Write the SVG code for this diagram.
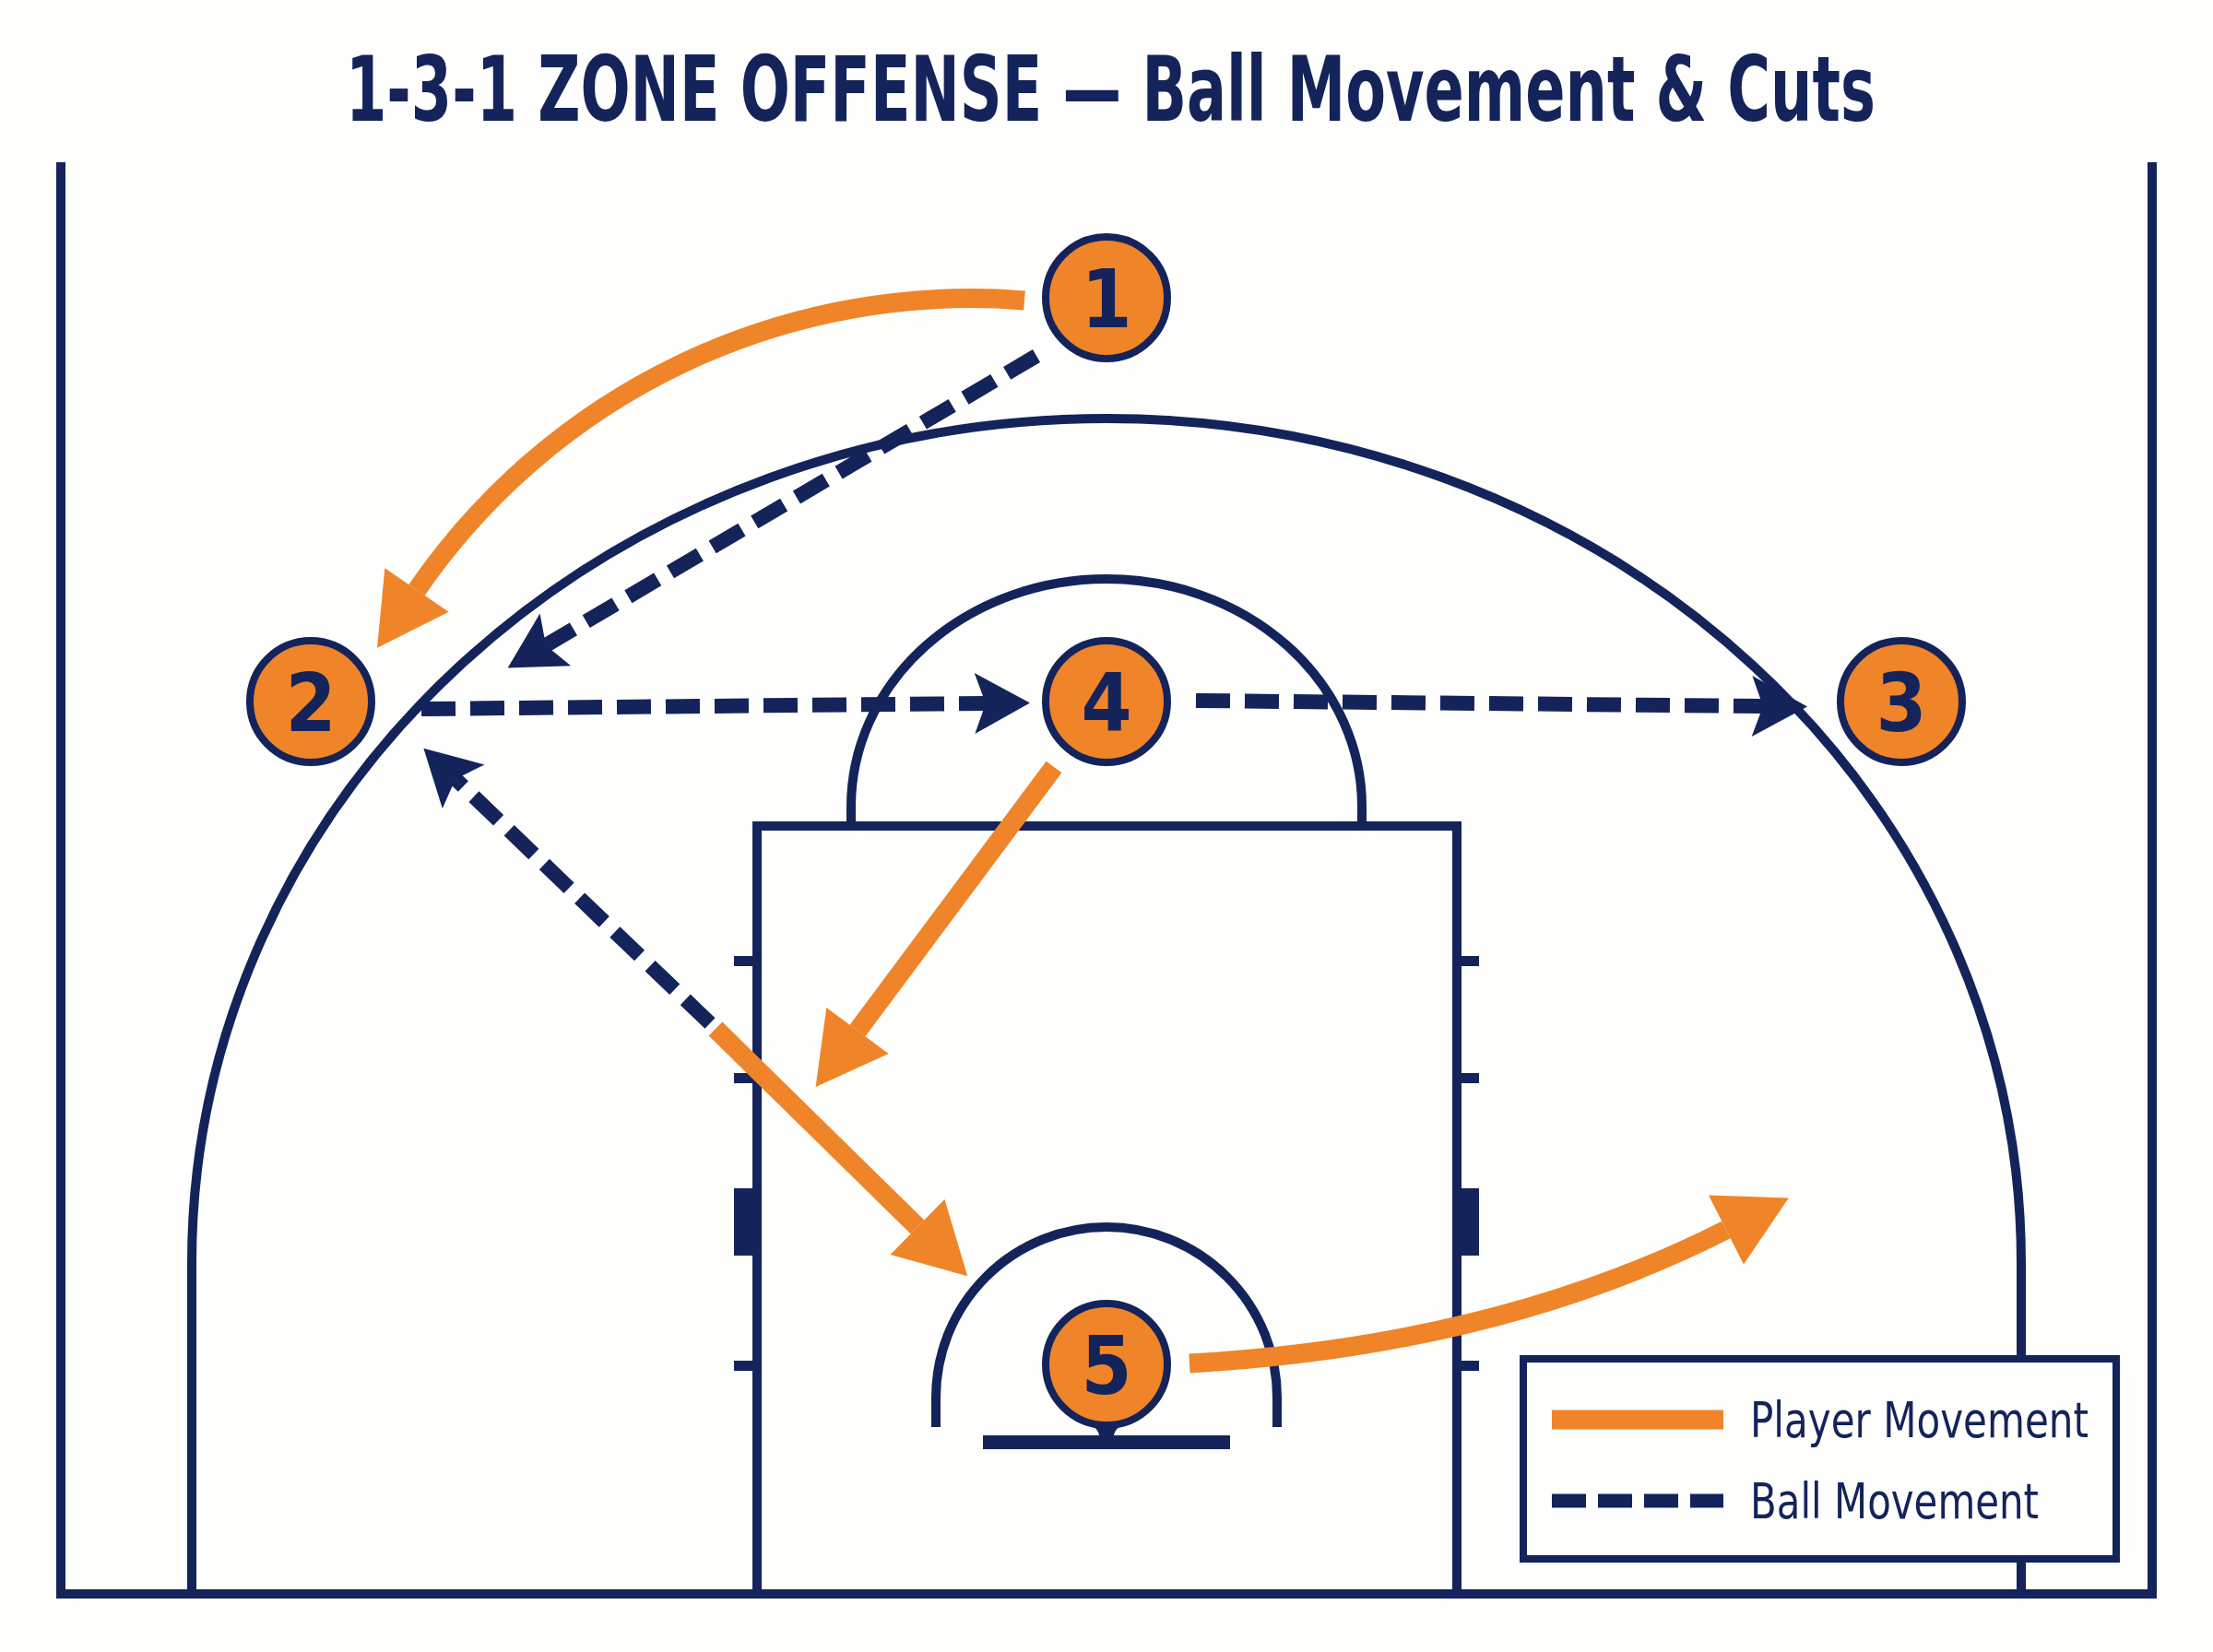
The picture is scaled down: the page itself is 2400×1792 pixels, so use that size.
<svg xmlns="http://www.w3.org/2000/svg" width="2400" height="1792" viewBox="0 0 2400 1792">
  <defs>
    <style>
      .court { fill: none; stroke: #14245A; stroke-width: 10; }
      .tick { fill: #14245A; }
      .pm { fill: none; stroke: #F08428; stroke-width: 21; stroke-linecap: butt; marker-end: url(#ah-o); }
      .bm { fill: none; stroke: #14245A; stroke-width: 16; stroke-dasharray: 37 16; stroke-linecap: butt; marker-end: url(#ah-n); }
      .node circle { fill: #F08428; stroke: #14245A; stroke-width: 8; }
      .num { font-family: 'Liberation Sans Narrow', 'DejaVu Sans Condensed', 'Liberation Sans', sans-serif; font-weight: bold; font-size: 88px; fill: #14245A; text-anchor: middle; }
      .title { font-family: 'Liberation Sans Narrow', 'DejaVu Sans Condensed', 'Liberation Sans', sans-serif; font-weight: bold; font-size: 98px; fill: #14245A; }
      .leg { font-family: 'Liberation Sans Narrow', 'DejaVu Sans Condensed', 'Liberation Sans', sans-serif; font-size: 54px; fill: #14245A; }
    </style>
    <marker id="ah-o" markerUnits="userSpaceOnUse" viewBox="0 -45 80 90" markerWidth="80" markerHeight="90" refX="0" refY="0" orient="auto" overflow="visible">
      <path d="M0,-42 L76,0 L0,42 Z" fill="#F08428"/>
    </marker>
    <marker id="ah-n" markerUnits="userSpaceOnUse" viewBox="-14 -35 64 70" markerWidth="64" markerHeight="70" refX="0" refY="0" orient="auto" overflow="visible">
      <path d="M-12,-33 L48,0 L-12,33 L0,0 Z" fill="#14245A"/>
    </marker>
  </defs>

  <rect x="0" y="0" width="2400" height="1792" fill="#FEFEFC"/>

  <text class="title" transform="translate(375,131) scale(0.726,1)" x="0" y="0" textLength="2285" lengthAdjust="spacingAndGlyphs">1-3-1 ZONE OFFENSE — Ball Movement &amp; Cuts</text>

  <g id="court">
    <path class="court" d="M66,176 L66,1729 M2334,176 L2334,1729 M61,1729 L2339,1729"/>
    <path class="court" d="M208,1729 L208,1370 A992,916 0 0 1 2192,1370 L2192,1729"/>
    <path class="court" d="M821,1729 L821,896 L1580,896 L1580,1729"/>
    <path class="court" d="M923,896 L923,875 A277,247 0 0 1 1477,875 L1477,896"/>
    <path class="court" d="M1015,1548 L1015,1516 A185,185 0 0 1 1385,1516 L1385,1548"/>
    <rect class="tick" x="1066" y="1557" width="268" height="15"/>
    <path class="tick" d="M1172,1540 Q1192,1548 1192,1558 L1208,1558 Q1208,1548 1228,1540 Z"/>
    <rect class="tick" x="796" y="1037" width="25" height="11"/>
    <rect class="tick" x="796" y="1164" width="25" height="11"/>
    <rect class="tick" x="796" y="1289" width="25" height="73"/>
    <rect class="tick" x="796" y="1476" width="25" height="11"/>
    <rect class="tick" x="1580" y="1037" width="24" height="11"/>
    <rect class="tick" x="1580" y="1164" width="24" height="11"/>
    <rect class="tick" x="1580" y="1289" width="24" height="73"/>
    <rect class="tick" x="1580" y="1476" width="24" height="11"/>
  </g>

  <g id="connectors">
    <path class="bm" d="M1124,386 L592,700"/>
    <path class="bm" d="M457,769 L1069,763"/>
    <path class="bm" d="M1297,760 L1912,766"/>
    <path class="bm" d="M770,1110 L494,845"/>
    <path class="pm" d="M1111,326 A728,728 0 0 0 452,640"/>
    <path class="pm" d="M1143,832 L930,1118"/>
    <path class="pm" d="M776,1116 L995,1331"/>
    <path class="pm" d="M1290,1479 Q1624,1460 1872,1334"/>
  </g>

  <g id="p1" class="node"><circle cx="1200" cy="323" r="66"/><text class="num" x="1200" y="355">1</text></g>
  <g id="p2" class="node"><circle cx="337" cy="761" r="66"/><text class="num" x="337" y="793">2</text></g>
  <g id="p4" class="node"><circle cx="1200" cy="761" r="66"/><text class="num" x="1200" y="793">4</text></g>
  <g id="p3" class="node"><circle cx="2062" cy="761" r="66"/><text class="num" x="2062" y="793">3</text></g>
  <g id="p5" class="node"><circle cx="1200" cy="1480" r="66"/><text class="num" x="1200" y="1512">5</text></g>

  <g id="legend">
    <rect x="1652" y="1474" width="643" height="217" fill="#FEFEFC" stroke="#14245A" stroke-width="8"/>
    <line x1="1683" y1="1540" x2="1869" y2="1540" stroke="#F08428" stroke-width="21"/>
    <line x1="1683" y1="1628" x2="1869" y2="1628" stroke="#14245A" stroke-width="15" stroke-dasharray="37 13"/>
    <text class="leg" x="1898" y="1559" textLength="367" lengthAdjust="spacingAndGlyphs">Player Movement</text>
    <text class="leg" x="1898" y="1647" textLength="313" lengthAdjust="spacingAndGlyphs">Ball Movement</text>
  </g>
</svg>
